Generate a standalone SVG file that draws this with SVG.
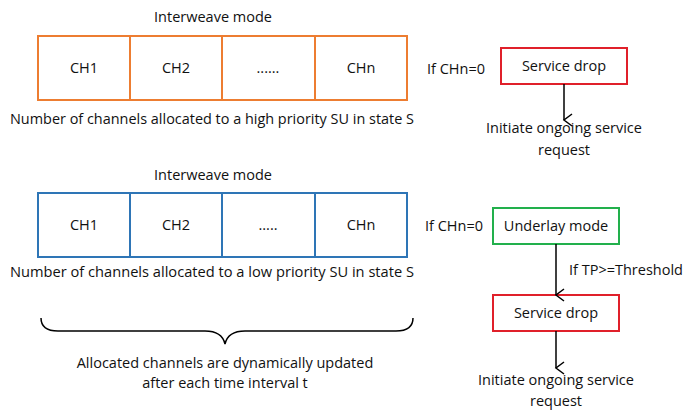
<svg xmlns="http://www.w3.org/2000/svg" width="698" height="411" viewBox="0 0 698 411">
<defs>
<style>
text{font-family:"Open Sans","Liberation Sans",sans-serif;font-size:14.5px;fill:#111;}
.mid{text-anchor:middle;}
.orange{fill:#fff;stroke:#ED7D31;stroke-width:2;}
.blue{fill:#fff;stroke:#2E75B6;stroke-width:2;}
.red{fill:#fff;stroke:#E0202A;stroke-width:2;}
.green{fill:#fff;stroke:#22B04C;stroke-width:2;}
.conn{stroke:#000;stroke-width:1.5;fill:none;}
</style>
<marker id="arr" markerWidth="14" markerHeight="12" refX="7" refY="10" orient="auto" markerUnits="userSpaceOnUse">
<polyline points="1,2 7,10 13,2" fill="none" stroke="#000" stroke-width="1.5"/>
</marker>
</defs>
<rect width="698" height="411" fill="#fff"/>
<g id="top-row">
<text class="mid" x="213" y="22">Interweave mode</text>
<rect class="orange" x="38" y="36" width="92" height="64"/>
<rect class="orange" x="130" y="36" width="92" height="64"/>
<rect class="orange" x="222" y="36" width="93" height="64"/>
<rect class="orange" x="315" y="36" width="92" height="64"/>
<text class="mid" x="84" y="73">CH1</text>
<text class="mid" x="176" y="73">CH2</text>
<text class="mid" x="268" y="73">......</text>
<text class="mid" x="361" y="73">CHn</text>
<text x="10" y="124" textLength="404" lengthAdjust="spacingAndGlyphs">Number of channels allocated to a high priority SU in state S</text>
</g>
<g id="bottom-row">
<text class="mid" x="213" y="180">Interweave mode</text>
<rect class="blue" x="38" y="193" width="92" height="64"/>
<rect class="blue" x="130" y="193" width="92" height="64"/>
<rect class="blue" x="222" y="193" width="93" height="64"/>
<rect class="blue" x="315" y="193" width="92" height="64"/>
<text class="mid" x="84" y="230">CH1</text>
<text class="mid" x="176" y="230">CH2</text>
<text class="mid" x="268" y="230">.....</text>
<text class="mid" x="361" y="230">CHn</text>
<text x="10" y="277" textLength="404" lengthAdjust="spacingAndGlyphs">Number of channels allocated to a low priority SU in state S</text>
</g>
<g id="brace">
<path class="conn" d="M41,318 Q41,331 58,331 L205,331 Q222,331 225,344 Q228,331 245,331 L396,331 Q413,331 413,318" stroke-width="1.5"/>
<text class="mid" x="225" y="368">Allocated channels are dynamically updated</text>
<text class="mid" x="225" y="388">after each time interval t</text>
</g>
<g id="service-drop-1">
<text x="427" y="74">If CHn=0</text>
<rect class="red" x="501" y="48" width="126" height="36"/>
<text class="mid" x="564" y="71">Service drop</text>
</g>
<g id="initiate-1">
<text class="mid" x="564" y="133">Initiate ongoing service</text>
<text class="mid" x="564" y="155">request</text>
</g>
<g id="underlay">
<text x="425" y="231">If CHn=0</text>
<rect class="green" x="493" y="208" width="126" height="36"/>
<text class="mid" x="556" y="231">Underlay mode</text>
</g>
<g id="service-drop-2">
<rect class="red" x="493" y="295" width="126" height="36"/>
<text class="mid" x="556" y="318">Service drop</text>
</g>
<g id="initiate-2">
<text class="mid" x="556" y="385">Initiate ongoing service</text>
<text class="mid" x="556" y="406">request</text>
</g>
<g id="connectors">
<line class="conn" x1="564" y1="84" x2="564" y2="120" marker-end="url(#arr)"/>
<line class="conn" x1="556" y1="244" x2="556" y2="295" marker-end="url(#arr)"/>
<text x="569" y="275">If TP&gt;=Threshold</text>
<line class="conn" x1="556" y1="331" x2="556" y2="368" marker-end="url(#arr)"/>
</g>
</svg>
